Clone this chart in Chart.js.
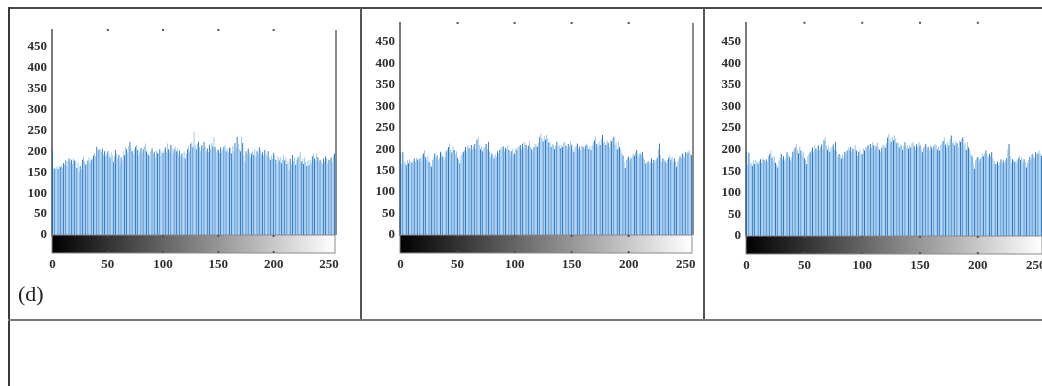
<!DOCTYPE html>
<html>
<head>
<meta charset="utf-8">
<script src="https://cdn.jsdelivr.net/npm/chart.js@4.4.1/dist/chart.umd.min.js"></script>
<style>
  body { margin: 0; background: #fff; width: 1042px; height: 386px; overflow: hidden; position: relative; }
  canvas { position: absolute; }
  .ln { position: absolute; background: #555; }
  #tag { position: absolute; left: 18px; top: 281px; font: 22px 'Liberation Serif', serif; color: #222; }
</style>
</head>
<body>
<div class="ln" style="left:8px;top:7px;width:1034px;height:2px;background:#4a4a4a"></div>
<div class="ln" style="left:8px;top:7px;width:1.5px;height:379px;background:#3a3a3a"></div>
<div class="ln" style="left:360px;top:8px;width:1.5px;height:312px"></div>
<div class="ln" style="left:703px;top:8px;width:1.5px;height:312px"></div>
<div class="ln" style="left:8px;top:319px;width:1034px;height:2px;background:#777"></div>

<canvas id="histA" width="350" height="300" style="left:10px;top:10px"></canvas>
<canvas id="histB" width="338" height="300" style="left:364px;top:10px"></canvas>
<canvas id="histC" width="336" height="300" style="left:706px;top:10px"></canvas>
<div id="tag">(d)</div>

<script>
// grey levels 0..255
const grayLevels = Array.from({ length: 256 }, (_, i) => i);
const xTickLabels = [0, 50, 100, 150, 200, 250];
const yTickLabels = [0, 50, 100, 150, 200, 250, 300, 350, 400, 450];

// pixel counts, first panel
const countsD1 = [
  205,160,158,160,163,158,165,162,167,160,172,168,178,165,176,183,
  175,180,170,183,178,176,160,172,150,165,158,180,187,176,168,171,
  178,185,172,180,183,190,196,188,211,200,205,203,198,206,192,200,
  188,195,200,192,185,198,190,175,188,203,195,182,191,167,185,178,
  200,190,211,205,198,212,223,208,200,195,205,211,215,203,190,199,
  208,196,205,212,219,200,195,191,188,200,207,193,199,185,202,196,
  195,205,190,200,196,203,210,198,219,205,200,215,208,196,205,211,
  200,207,193,202,188,195,186,200,183,195,205,213,200,218,223,210,
  247,215,205,218,223,210,200,215,208,223,212,200,207,198,215,205,
  220,212,235,210,198,205,203,196,210,200,205,211,215,200,206,198,
  209,207,195,213,200,220,210,235,218,205,200,235,220,190,175,200,
  193,207,198,185,195,200,191,205,188,200,195,210,203,192,198,190,
  203,195,188,200,185,179,190,182,196,191,180,171,188,178,185,172,
  180,191,178,185,170,176,155,182,170,191,176,185,168,179,185,190,
  199,175,182,170,185,175,165,178,167,180,172,188,195,183,178,195,
  186,174,180,175,170,182,176,188,183,172,180,179,185,176,190,195
];

// pixel counts, second and third panel (they look the same)
const countsD2 = [
  195,165,193,168,170,163,175,167,176,172,168,173,178,170,180,176,
  172,178,172,185,190,198,182,175,185,170,165,159,175,182,190,178,
  185,175,180,194,188,183,175,182,195,200,205,213,198,192,206,198,
  188,195,180,175,167,185,190,194,198,205,195,210,203,198,210,200,
  206,212,200,222,229,210,200,206,195,203,206,212,200,217,195,183,
  190,185,179,188,182,195,190,198,205,200,206,195,203,200,210,198,
  186,195,200,188,190,203,198,205,206,210,200,213,205,217,210,200,
  208,217,205,200,194,205,212,210,205,215,228,237,225,218,230,222,
  233,225,215,217,205,212,210,200,208,217,205,210,202,210,205,215,
  217,208,200,212,206,217,210,200,194,205,208,213,200,206,198,210,
  205,200,208,213,210,200,206,198,210,215,220,229,212,205,217,210,
  225,233,215,217,210,220,215,205,221,218,225,229,210,215,200,217,
  205,200,190,185,170,156,175,180,183,172,178,183,190,185,192,198,
  188,182,190,185,194,180,175,167,167,172,165,171,178,168,175,170,
  175,180,200,213,185,170,178,175,172,168,175,180,186,176,182,170,
  178,172,159,170,176,183,178,190,185,180,194,188,192,198,190,186
];

const labelFont = { family: "'Liberation Serif', serif", size: 13, weight: 'bold' };
const labelColor = '#2e2e2e';

// scanned look: some bars print dark, most print pale
function barShade(c) {
  const k = c.dataIndex % 5;
  return (k === 0 || k === 2) ? '#1d6dc2' : '#8fc2ec';
}

// gray ramp under the bars, right axis line, little tick marks
const rampPlugin = {
  id: 'ramp',
  afterDatasetsDraw(chart) {
    const { ctx, chartArea: a, scales: { x } } = chart;
    const h = 18;
    ctx.save();
    const g = ctx.createLinearGradient(a.left, 0, a.right, 0);
    g.addColorStop(0, '#000');
    g.addColorStop(1, '#fff');
    ctx.fillStyle = g;
    ctx.fillRect(a.left, a.bottom, a.right - a.left, h);
    ctx.strokeStyle = '#8a8a8a';
    ctx.lineWidth = 1;
    ctx.strokeRect(a.left, a.bottom, a.right - a.left, h);

    ctx.fillStyle = '#555';
    [50, 100, 150, 200].forEach(v => {
      const px = x.getPixelForValue(v);
      ctx.fillRect(px - 1, a.bottom, 2, 2);
      ctx.fillRect(px - 1, a.bottom + h - 2, 2, 2);
      ctx.fillRect(px - 1, a.top - 1, 2, 2);
    });

    ctx.strokeStyle = '#8a8a8a';
    ctx.lineWidth = 2;
    ctx.beginPath();
    ctx.moveTo(a.right + 1, a.top);
    ctx.lineTo(a.right + 1, a.bottom);
    ctx.stroke();
    ctx.restore();
  }
};

function makeHistogram(id, counts, geo) {
  const canvas = document.getElementById(id);
  return new Chart(canvas, {
    type: 'bar',
    data: {
      labels: grayLevels,
      datasets: [{
        data: counts,
        backgroundColor: barShade,
        categoryPercentage: 1,
        barPercentage: 0.8
      }]
    },
    options: {
      responsive: false,
      animation: false,
      devicePixelRatio: 1,
      layout: { padding: { top: geo.top, right: geo.right, left: 0, bottom: 0 } },
      plugins: { legend: { display: false }, tooltip: { enabled: false } },
      scales: {
        x: {
          type: 'linear',
          offset: false,
          min: -0.5,
          max: 255.5,
          grid: { display: false, drawTicks: false, offset: false },
          border: { display: false },
          ticks: { font: labelFont, color: labelColor, padding: 22, maxRotation: 0, autoSkip: false },
          afterBuildTicks: s => { s.ticks = xTickLabels.map(v => ({ value: v })); },
          afterFit: s => { s.height = canvas.height - geo.bottom; s.paddingLeft = 0; s.paddingRight = 0; }
        },
        y: {
          min: 0,
          max: geo.yMax,
          grid: { display: false, drawTicks: false },
          border: { display: true, color: '#7a7a7a', width: 2 },
          ticks: { font: labelFont, color: labelColor, padding: 5 },
          afterBuildTicks: s => { s.ticks = yTickLabels.map(v => ({ value: v })); },
          afterFit: s => { s.width = geo.left; }
        }
      }
    },
    plugins: [rampPlugin]
  });
}

makeHistogram('histA', countsD1, { left: 42, right: 25, top: 20, bottom: 225, yMax: 490 });
makeHistogram('histB', countsD2, { left: 36, right: 10, top: 13, bottom: 225, yMax: 494 });
makeHistogram('histC', countsD2, { left: 40, right: 0, top: 12, bottom: 226, yMax: 494 });
</script>
</body>
</html>
